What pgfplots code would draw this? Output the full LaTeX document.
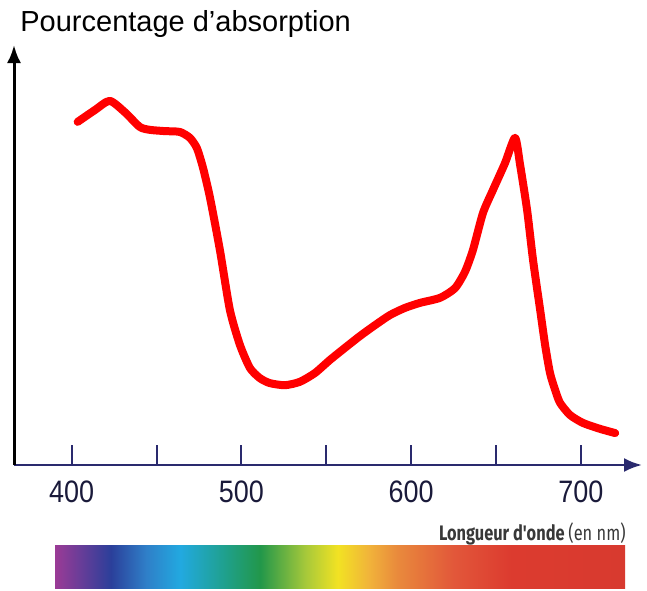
\documentclass[border=0pt]{standalone}
\usepackage{fontspec}
\setmainfont{Liberation Sans}
\newfontfamily\condfont[FakeStretch=0.78]{Fira Sans}
\newfontfamily\tickfont[FakeStretch=0.87]{Liberation Sans}
\usepackage{pgfplots}
\pgfplotsset{compat=1.18}
\usetikzlibrary{arrows.meta}

\definecolor{navy}{HTML}{2A2A6E}
\definecolor{ticktext}{HTML}{1A1A3A}
\definecolor{curve}{HTML}{FF0000}

% spectre visible (25bp..75bp correspond au rectangle)
\pgfdeclarehorizontalshading{spectrum}{100bp}{%
  color(0bp)=({rgb,255:red,155;green,59;blue,150});
  color(25bp)=({rgb,255:red,155;green,59;blue,150});
  color(29.9bp)=({rgb,255:red,43;green,63;blue,154});
  color(33bp)=({rgb,255:red,47;green,127;blue,200});
  color(36bp)=({rgb,255:red,34;green,169;blue,224});
  color(40bp)=({rgb,255:red,31;green,160;blue,138});
  color(43bp)=({rgb,255:red,34;green,151;blue,74});
  color(47bp)=({rgb,255:red,167;green,201;blue,58});
  color(49.8bp)=({rgb,255:red,242;green,226;blue,35});
  color(52.5bp)=({rgb,255:red,241;green,180;blue,58});
  color(55bp)=({rgb,255:red,233;green,138;blue,60});
  color(60bp)=({rgb,255:red,226;green,87;blue,58});
  color(65bp)=({rgb,255:red,220;green,59;blue,47});
  color(75bp)=({rgb,255:red,216;green,58;blue,47});
  color(100bp)=({rgb,255:red,216;green,58;blue,47})}

\begin{document}
\begin{tikzpicture}
\path[use as bounding box] (0,0) rectangle (323.5pt,295pt);

\begin{axis}[
  at={(7pt,62.5pt)}, anchor=south west,
  scale only axis, width=314pt, height=210pt,
  xmin=366, xmax=736, ymin=0, ymax=100,
  axis x line=bottom, axis y line=left,
  x axis line style={-{Latex[length=9pt,width=7pt]}, navy, line width=1.3pt},
  y axis line style={-{Latex[length=9pt,width=7pt]}, black, line width=1.5pt},
  xtick={400,450,...,700},
  xticklabels={400,,500,,600,,700},
  ytick=\empty,
  tick align=inside,
  major tick length=10pt,
  xtick style={navy, line width=1pt},
  xticklabel style={font=\tickfont\fontsize{15.5}{18}\selectfont, text=ticktext, yshift=-4.3pt},
  /pgf/number format/assume math mode=true,
  clip=false,
]
\addplot[curve, line width=4pt, smooth, tension=0.4, line cap=round, line join=round] coordinates {
  (403.5,81.7) (413.6,84.5) (422.4,86.7) (431.3,84.0) (440.1,80.5)
  (446.0,79.8) (454.8,79.5) (463.7,79.3) (469.6,77.9) (473.7,75.5)
  (477.2,71.0) (481.4,63.8) (487.3,51.2) (493.2,36.9) (499.1,28.6)
  (505.0,23.1) (510.8,20.7) (516.7,19.5) (525.6,19.0) (534.4,19.8)
  (543.3,21.9) (552.1,25.0) (561.0,27.9) (569.8,30.7) (578.7,33.3)
  (587.5,35.7) (596.3,37.4) (605.2,38.6) (617.0,39.8) (625.8,42.1)
  (631.7,46.0) (636.4,51.2) (642.3,60.0) (648.2,65.5) (655.3,71.9)
  (661.2,77.9) (664.2,71.4) (668.3,60.7) (671.8,48.8) (676.0,36.9)
  (678.9,28.6) (681.8,21.9) (684.8,17.9) (687.7,14.8) (693.6,11.9)
  (701.3,10.0) (711.3,8.6) (720.2,7.6)
};
\end{axis}

\node[anchor=base west, font=\fontsize{14.5}{17}\selectfont, inner sep=0pt]
  at (10pt,279pt) {Pourcentage d'absorption};

\node[anchor=base east, inner sep=0pt, text=black!78]
  at (313pt,25pt) {\condfont\fontsize{10.5}{12}\selectfont\bfseries Longueur d'onde \mdseries(en nm)};

\shade[shading=spectrum] (27.5pt,1pt) rectangle (312.5pt,22.5pt);
\end{tikzpicture}
\end{document}
